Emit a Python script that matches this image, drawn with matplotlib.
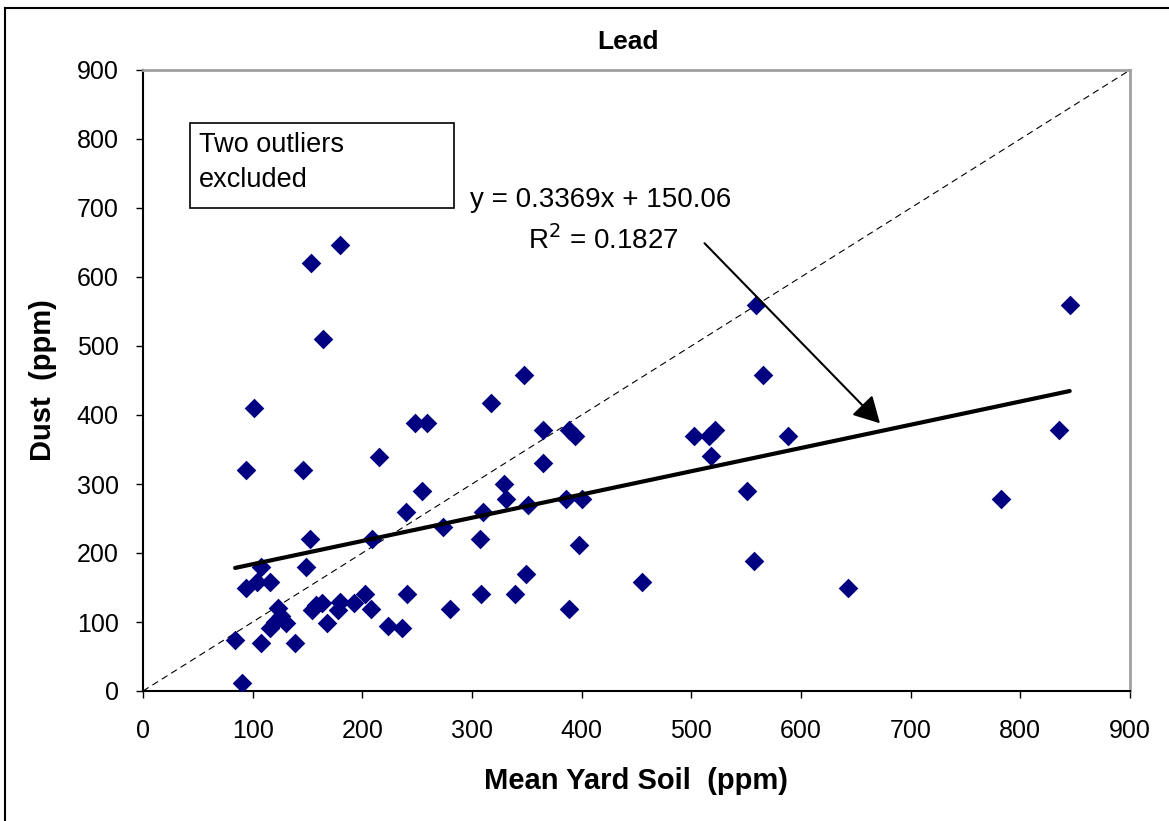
import matplotlib
matplotlib.use('Agg')
import matplotlib.pyplot as plt
from matplotlib.patches import Rectangle
from matplotlib.lines import Line2D

plt.rcParams['font.family'] = ['Liberation Sans', 'DejaVu Sans']

# dados (solo médio do quintal x poeira, ppm)
solo = [84, 90, 94, 94, 101, 104, 108, 108, 116, 116, 120, 123, 126, 130, 139,
        146, 149, 152, 153, 154, 158, 163, 164, 168, 178, 180, 180, 192, 202, 208,
        209, 215, 223, 236, 240, 241, 248, 254, 259, 274, 280, 307, 308, 310, 317,
        329, 331, 339, 347, 349, 351, 365, 365, 386, 388, 388, 394, 398, 400, 455,
        502, 516, 518, 522, 551, 557, 559, 565, 588, 643, 782, 835, 845]
poeira = [74, 11, 320, 149, 410, 158, 180, 70, 158, 91, 100, 120, 108, 98, 70,
          320, 180, 220, 620, 118, 125, 128, 510, 98, 117, 129, 647, 128, 141, 119,
          220, 339, 94, 91, 259, 141, 388, 290, 388, 238, 119, 220, 141, 260, 418,
          300, 278, 141, 458, 170, 269, 378, 330, 278, 378, 119, 370, 211, 278, 158,
          370, 370, 340, 378, 290, 189, 560, 458, 370, 149, 278, 378, 559]

# reta de regressão informada no gráfico
inclinacao = 0.3369
intercepto = 150.06
ticks = [0, 100, 200, 300, 400, 500, 600, 700, 800, 900]

fig = plt.figure(figsize=(11.69, 8.21), dpi=100)
ax = fig.add_axes([143/1169, 1-691/821, (1130-143)/1169, (691-70)/821])

# linha 1:1
ax.plot([0, 900], [0, 900], color='black', lw=0.8, dashes=(6, 4))

ax.scatter(solo, poeira, marker='D', s=100, color='#000080', linewidths=0, zorder=3)

xmin = min(solo)
xmax = max(solo)
ax.plot([xmin, xmax], [inclinacao*xmin+intercepto, inclinacao*xmax+intercepto],
        color='black', lw=3, solid_capstyle='round', zorder=4)

ax.set_xlim(0, 900)
ax.set_ylim(0, 900)
ax.set_xticks(ticks)
ax.set_yticks(ticks)
ax.tick_params(axis='both', direction='out', length=5, width=1, labelsize=18)
ax.tick_params(axis='x', pad=15)
ax.tick_params(axis='y', pad=12.5)
for s in ['left', 'bottom']:
    ax.spines[s].set_linewidth(1.5)
    ax.spines[s].set_color('black')
for s in ['top', 'right']:
    ax.spines[s].set_linewidth(2)
    ax.spines[s].set_color('#a0a0a0')

ax.set_xlabel('Mean Yard Soil  (ppm)', fontsize=21, fontweight='bold')
ax.set_ylabel('Dust  (ppm)', fontsize=21, fontweight='bold')
ax.xaxis.set_label_coords(0.5, -(767-691)/621)
ax.yaxis.set_label_coords(-(143-57)/987, 0.5)
fig.text(628/1169, 1-42/821, 'Lead', ha='center', va='center', fontsize=19, fontweight='bold')

# caixa de texto
ax.add_patch(Rectangle((43, 700), 240.5, 123, fill=False, edgecolor='black', lw=1.2, zorder=5))
ax.text(51, 766, 'Two outliers\nexcluded', ha='left', va='center', fontsize=19.5, linespacing=1.45)

ax.text(417, 712, 'y = 0.3369x + 150.06', ha='center', va='center', fontsize=20)
ax.text(420, 654, 'R$^2$ = 0.1827', ha='center', va='center', fontsize=20)

ax.annotate('', xy=(672, 388), xytext=(512, 649),
            arrowprops=dict(arrowstyle='-|>,head_length=0.4,head_width=0.22',
                            mutation_scale=40, lw=1.5, color='black',
                            shrinkA=0, shrinkB=0))

# moldura externa
fig.add_artist(Line2D([5/1169, 5/1169], [0, 1-8/821], color='black', lw=1.5))
fig.add_artist(Line2D([5/1169, 1], [1-8/821, 1-8/821], color='black', lw=1.5))

fig.savefig('out.png', dpi=100)
